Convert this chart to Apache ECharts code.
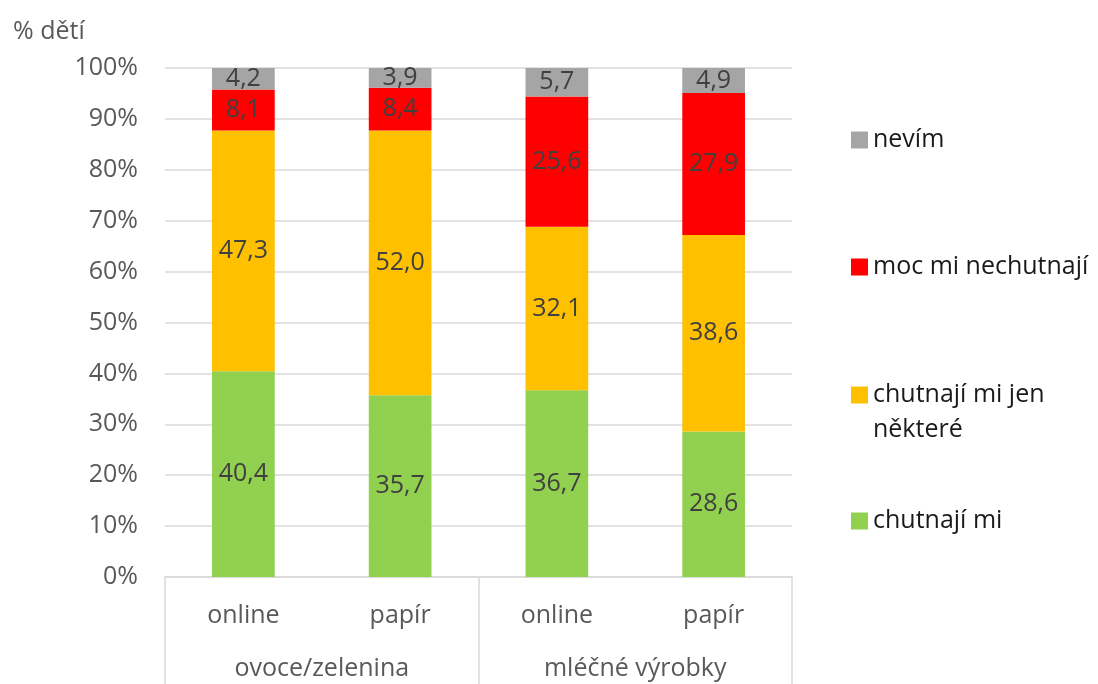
<!DOCTYPE html>
<html>
<head>
<meta charset="utf-8">
<script src="https://cdn.jsdelivr.net/npm/echarts@6/dist/echarts.min.js"></script>
<style>html,body{margin:0;padding:0;background:#fff}#c{width:1098px;height:684px}</style>
</head>
<body>
<div id="c"></div>
<script>
const categories = ['online', 'papír', 'online', 'papír'];
const groups = ['ovoce/zelenina', 'mléčné výrobky'];
const yTicks = [0, 10, 20, 30, 40, 50, 60, 70, 80, 90, 100];
const seriesNames = ['chutnají mi', 'chutnají mi jen některé', 'moc mi nechutnají', 'nevím'];
const chutnajiMi = [40.4, 35.7, 36.7, 28.6];
const jenNektere = [47.3, 52.0, 32.1, 38.6];
const nechutnaji = [8.1, 8.4, 25.6, 27.9];
const nevim = [4.2, 3.9, 5.7, 4.9];

const FONT = '"Open Sans", "Noto Sans", sans-serif';
const FS = 25;
const colors = ['#92d050', '#ffc000', '#ff0000', '#a5a5a5'];
const values = [chutnajiMi, jenNektere, nechutnaji, nevim];

const chart = echarts.init(document.getElementById('c'));

function mkSeries(i) {
  return {
    name: seriesNames[i],
    type: 'bar',
    stack: 'total',
    barWidth: '40%',
    data: values[i],
    itemStyle: { color: colors[i] },
    label: {
      show: true,
      position: 'inside',
      color: '#404040',
      fontFamily: FONT,
      fontSize: FS,
      formatter: p => p.value.toFixed(1).replace('.', ',')
    },
    emphasis: { disabled: true }
  };
}

const legendCenters = [140, 267, 395, 521];
function mkLegend(i, center) {
  const base = {
    orient: 'vertical',
    left: 851,
    padding: 0,
    itemWidth: 17,
    itemHeight: 17,
    itemGap: 0,
    icon: 'rect',
    selectedMode: false,
    data: [seriesNames[i]],
    textStyle: { fontFamily: FONT, fontSize: FS, color: '#1a1a1a', lineHeight: 30 }
  };
  base.top = center - 15;
  if (i === 1) {
    base.formatter = () => '{s| }\n{t|chutnají mi jen}\n{t|některé}';
    base.textStyle = {
      fontFamily: FONT, fontSize: FS, color: '#1a1a1a', lineHeight: 35,
      rich: {
        s: { fontFamily: FONT, fontSize: FS, lineHeight: 35 },
        t: { fontFamily: FONT, fontSize: FS, color: '#1a1a1a', lineHeight: 35 }
      }
    };
    base.top = center - 52.5;
  }
  return base;
}

chart.setOption({
  animation: false,
  textStyle: { fontFamily: FONT },
  title: {
    text: '% dětí',
    left: 8,
    top: 14,
    textStyle: { fontFamily: FONT, fontSize: FS, fontWeight: 'normal', color: '#595959' }
  },
  grid: { left: 165, right: 306, top: 68, bottom: 107 },
  legend: [mkLegend(3, legendCenters[0]), mkLegend(2, legendCenters[1]), mkLegend(1, legendCenters[2]), mkLegend(0, legendCenters[3])],
  xAxis: [
    {
      type: 'category',
      data: categories,
      axisLine: { show: true, lineStyle: { color: '#d9d9d9', width: 1.5 } },
      axisTick: { show: false },
      axisLabel: { color: '#595959', fontFamily: FONT, fontSize: FS, margin: 26 }
    },
    {
      type: 'category',
      data: groups,
      position: 'bottom',
      axisLine: { show: false },
      axisTick: { show: true, length: 110, interval: 0, lineStyle: { color: '#d9d9d9', width: 1.5 } },
      axisLabel: { color: '#595959', fontFamily: FONT, fontSize: FS, margin: 79, interval: 0 }
    }
  ],
  yAxis: {
    type: 'value',
    min: yTicks[0],
    max: yTicks[yTicks.length - 1],
    interval: 10,
    axisLine: { show: false },
    axisTick: { show: false },
    splitLine: { lineStyle: { color: '#d9d9d9', width: 1.5 } },
    axisLabel: { color: '#595959', fontFamily: FONT, fontSize: FS, margin: 27, formatter: '{value}%' }
  },
  series: [0, 1, 2, 3].map(mkSeries)
});
</script>
</body>
</html>
